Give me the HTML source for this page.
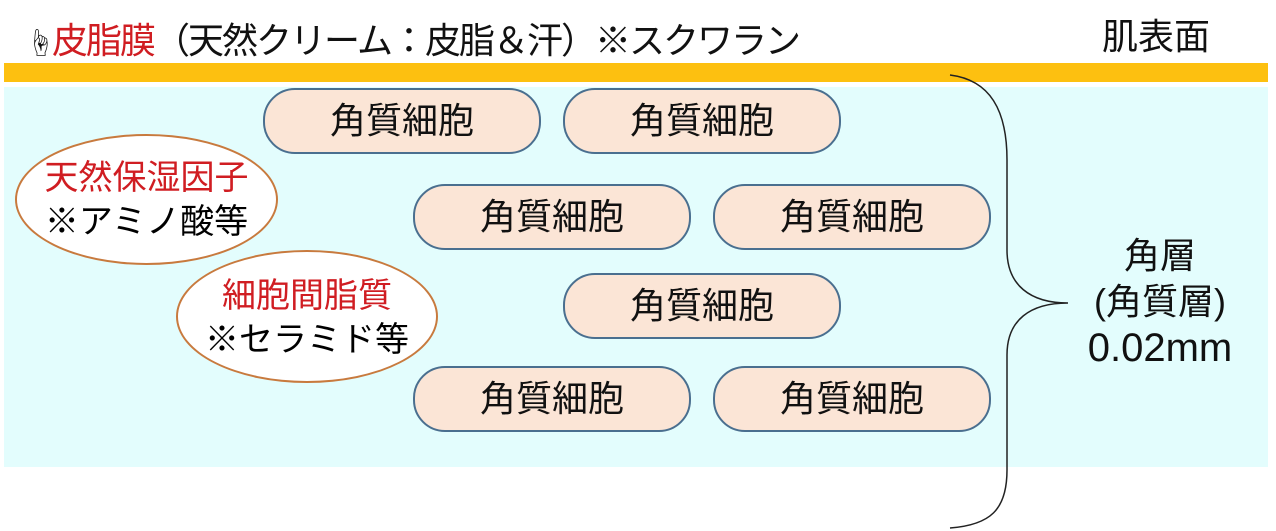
<!DOCTYPE html>
<html><head><meta charset="utf-8"><style>
body{margin:0;width:1276px;height:531px;overflow:hidden;background:#fff;font-family:"Liberation Sans","Noto Sans CJK JP",sans-serif;position:relative}
.a{position:absolute}
.pill{position:absolute;width:274px;height:62px;border:2px solid #4a6f8f;border-radius:32px;background:#fbe5d6;font-size:36px;line-height:62px;text-align:center;color:#111;box-sizing:content-box}
.ell{position:absolute;border:2px solid #c87a3e;border-radius:50%;background:#fff;text-align:center;font-size:34px;line-height:44px;box-sizing:border-box;white-space:nowrap}
</style></head><body>
<div class="a" style="left:4px;top:63px;width:1264px;height:19px;background:#fdc010"></div>
<div class="a" style="left:4px;top:87px;width:1264px;height:380px;background:#e3fdfd"></div>
<div class="a" style="left:26px;top:18px;font-size:36px;line-height:46px;white-space:nowrap;color:#111;letter-spacing:-2px"><span style="font-size:28px">☝</span><span style="color:#d01d22">皮脂膜</span>（天然クリーム：皮脂＆汗）※スクワラン</div>
<div class="a" style="left:1102px;top:14px;font-size:36px;line-height:46px;color:#111">肌表面</div>
<div class="pill" style="left:263px;top:88px">角質細胞</div>
<div class="pill" style="left:563px;top:88px">角質細胞</div>
<div class="pill" style="left:413px;top:184px">角質細胞</div>
<div class="pill" style="left:713px;top:184px">角質細胞</div>
<div class="pill" style="left:563px;top:273px">角質細胞</div>
<div class="pill" style="left:413px;top:366px">角質細胞</div>
<div class="pill" style="left:713px;top:366px">角質細胞</div>
<div class="ell" style="left:15px;top:134px;width:263px;height:131px;padding-top:20px"><span style="color:#d01d22">天然保湿因子</span><br>※アミノ酸等</div>
<div class="ell" style="left:176px;top:250px;width:262px;height:133px;padding-top:22px"><span style="color:#d01d22">細胞間脂質</span><br>※セラミド等</div>
<svg class="a" style="left:0;top:0" width="1276" height="531"><path d="M950 75 C990 80 1007 110 1007 160 L1007 250 C1007 285 1030 303 1068 303 C1030 303 1007 320 1007 355 L1007 470 C1007 510 990 525 950 528" fill="none" stroke="#222" stroke-width="1.5"/></svg>
<div class="a" style="left:1060px;top:233px;width:200px;text-align:center;font-size:36px;line-height:46px;color:#111">角層<br>(角質層)<br><span style="font-size:40px">0.02mm</span></div>
</body></html>
